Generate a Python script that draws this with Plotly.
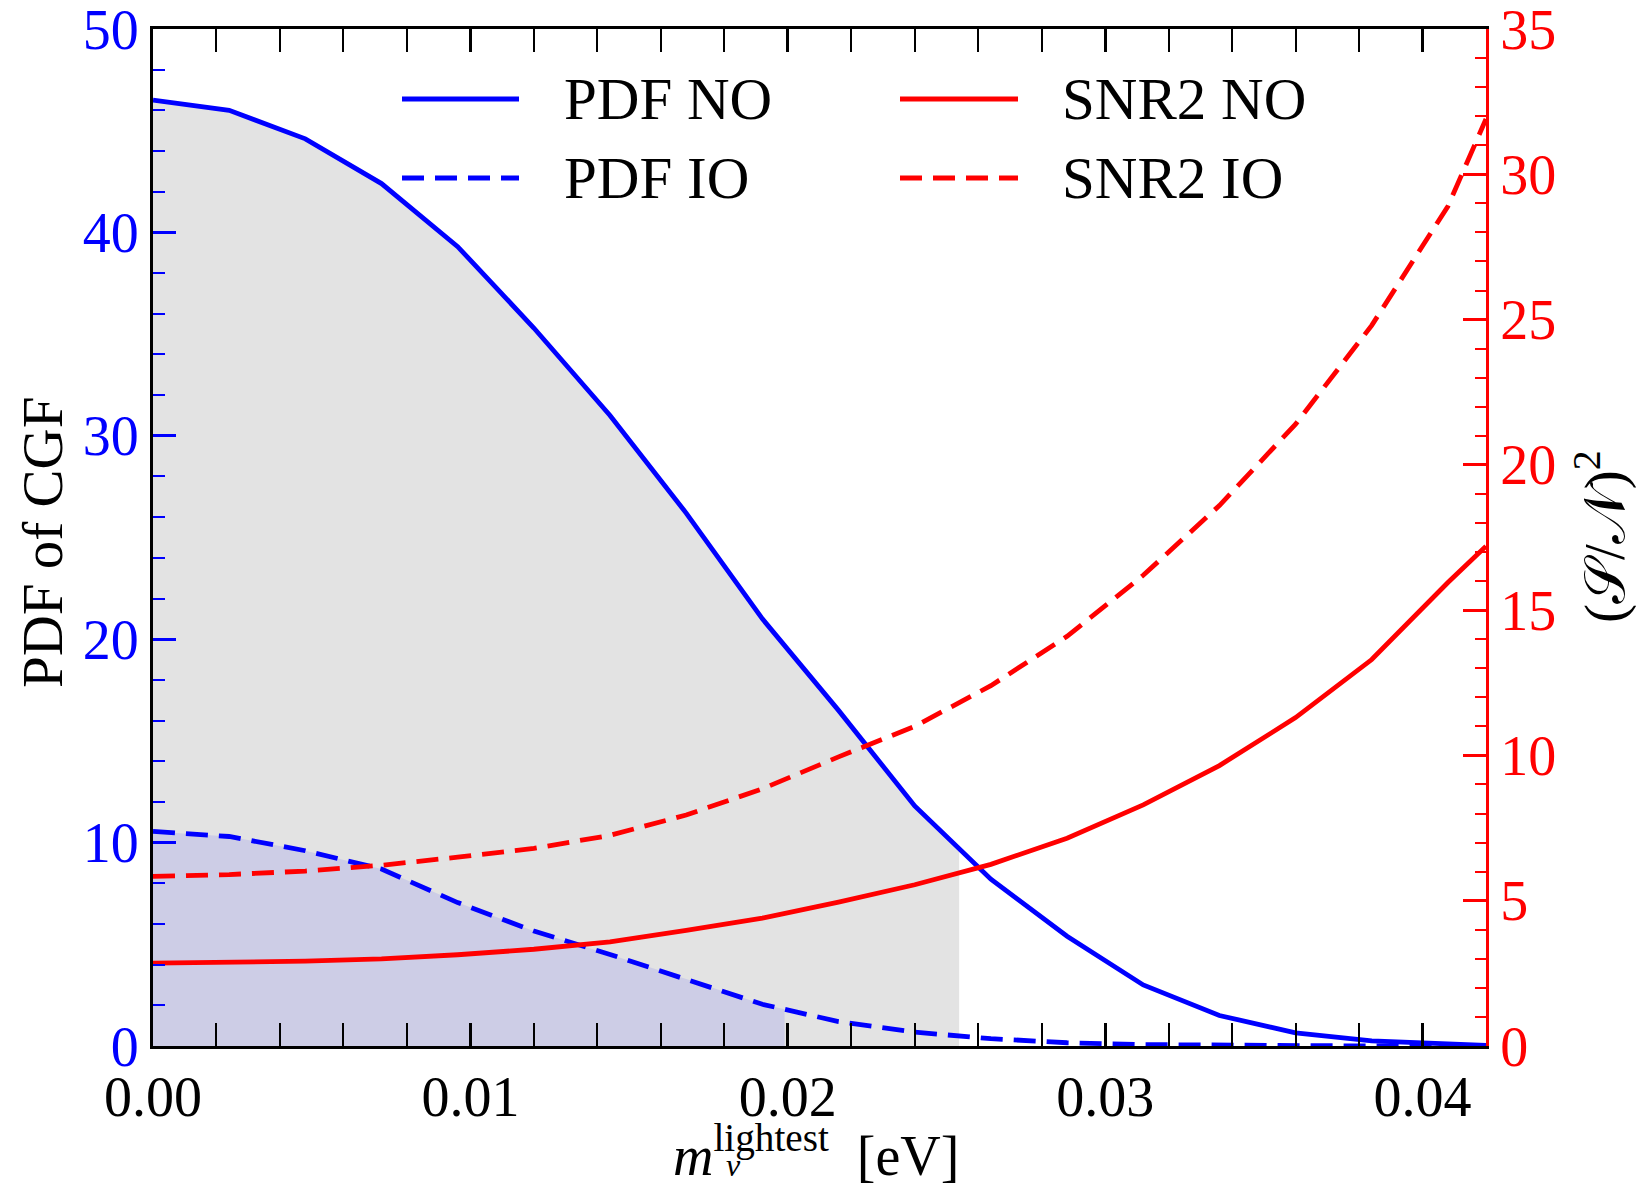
import numpy as np
import plotly.graph_objects as go

# ---------------- data ----------------
m_light = [0.0, 0.0024, 0.0048, 0.0072, 0.0096, 0.012, 0.0144, 0.0168, 0.0192,
           0.0216, 0.024, 0.0264, 0.0288, 0.0312, 0.0336, 0.036, 0.0384, 0.0408, 0.042]
pdf_no = [46.5, 46.0, 44.6, 42.4, 39.3, 35.3, 31.0, 26.2, 21.0,
          16.5, 11.8, 8.2, 5.4, 3.0, 1.5, 0.65, 0.25, 0.08, 0.03]
pdf_io = [10.55, 10.3, 9.6, 8.7, 7.05, 5.65, 4.5, 3.3, 2.05,
          1.2, 0.68, 0.36, 0.16, 0.07, 0.03, 0.01, 0.0, 0.0, 0.0]
snr2_no = [2.85, 2.87, 2.92, 3.0, 3.14, 3.33, 3.58, 3.98, 4.4,
           4.95, 5.55, 6.25, 7.15, 8.3, 9.65, 11.3, 13.3, 15.95, 17.2]
snr2_io = [5.84, 5.9, 6.02, 6.22, 6.5, 6.8, 7.25, 7.95, 8.85,
           9.95, 11.0, 12.4, 14.1, 16.2, 18.6, 21.4, 24.8, 28.9, 31.9]

cut_no = 0.0254   # end of shaded region (NO)
cut_io = 0.0199   # end of shaded region (IO)

x_ticks = [0.0, 0.01, 0.02, 0.03, 0.04]
x_ticklabels = ["0.00", "0.01", "0.02", "0.03", "0.04"]
y1_ticks = [0, 10, 20, 30, 40, 50]
y2_ticks = [0, 5, 10, 15, 20, 25, 30, 35]
legend_names = ["PDF NO", "PDF IO", "SNR2 NO", "SNR2 IO"]

BLUE = "#0000ff"
RED = "#ff0000"
FONT = "Liberation Serif"
DASH = "22px,11px"


def shaded(xs, ys, cut):
    xs = np.asarray(xs)
    ys = np.asarray(ys)
    keep = xs < cut
    xf = np.append(xs[keep], cut)
    yf = np.append(ys[keep], np.interp(cut, xs, ys))
    return xf, yf


fig = go.Figure()

xg, yg = shaded(m_light, pdf_no, cut_no)
fig.add_trace(go.Scatter(x=xg, y=yg, mode="lines", line=dict(width=0),
                         fill="tozeroy", fillcolor="#e3e3e3", showlegend=False,
                         hoverinfo="skip"))
xp, yp = shaded(m_light, pdf_io, cut_io)
fig.add_trace(go.Scatter(x=xp, y=yp, mode="lines", line=dict(width=0),
                         fill="tozeroy", fillcolor="#cdcde6", showlegend=False,
                         hoverinfo="skip"))

fig.add_trace(go.Scatter(x=m_light, y=pdf_no, mode="lines", name=legend_names[0],
                         line=dict(color=BLUE, width=4.8), showlegend=False))
fig.add_trace(go.Scatter(x=m_light, y=pdf_io, mode="lines", name=legend_names[1],
                         line=dict(color=BLUE, width=4.8, dash=DASH), showlegend=False))
fig.add_trace(go.Scatter(x=m_light, y=snr2_no, mode="lines", name=legend_names[2],
                         line=dict(color=RED, width=4.8), yaxis="y2", showlegend=False))
fig.add_trace(go.Scatter(x=m_light, y=snr2_io, mode="lines", name=legend_names[3],
                         line=dict(color=RED, width=4.8, dash=DASH), yaxis="y2",
                         showlegend=False))

W, H = 1638, 1186
L, R, T, B = 153, 152, 29, 140
PW, PH = W - L - R, H - T - B


def px_x(px):
    return (px - L) / PW


def px_y(py):
    return (H - B - py) / PH


# manual legend (line samples + labels)
legend_rows = [99, 178]
legend_cols = [(402, 519, 562), (900, 1018, 1060)]
entries = [(0, 0, BLUE, "solid", legend_names[0]),
           (1, 0, BLUE, DASH, legend_names[1]),
           (0, 1, RED, "solid", legend_names[2]),
           (1, 1, RED, DASH, legend_names[3])]
shapes = []
annotations = []
for row, col, color, dash, name in entries:
    x0, x1, xt = legend_cols[col]
    yy = px_y(legend_rows[row])
    shapes.append(dict(type="line", xref="paper", yref="paper",
                       x0=px_x(x0), x1=px_x(x1), y0=yy, y1=yy,
                       line=dict(color=color, width=4.8, dash=dash)))
    annotations.append(dict(xref="paper", yref="paper", x=px_x(xt), y=yy,
                            xanchor="left", yanchor="middle", showarrow=False,
                            text=name, font=dict(family=FONT, size=59, color="black")))

# axis titles
annotations.append(dict(xref="paper", yref="paper", x=px_x(42), y=px_y(543),
                        textangle=-90, showarrow=False, xanchor="center", yanchor="middle",
                        text="PDF of CGF", font=dict(family=FONT, size=57, color="black")))
annotations.append(dict(xref="paper", yref="paper", x=px_x(1600), y=px_y(537),
                        textangle=-90, showarrow=False, xanchor="center", yanchor="middle",
                        text="(\U0001D4AE/\U0001D4A9)<sup>2</sup>",
                        font=dict(family=FONT, size=57, color="black")))
annotations.append(dict(xref="paper", yref="paper", x=px_x(816), y=px_y(1151),
                        showarrow=False, xanchor="center", yanchor="middle",
                        text="<i>m</i><sup>lightest</sup>  [eV]",
                        font=dict(family=FONT, size=56, color="black")))
annotations.append(dict(xref="paper", yref="paper", x=px_x(733), y=px_y(1185),
                        showarrow=False, xanchor="center", yanchor="bottom",
                        text="<i>ν</i>",
                        font=dict(family=FONT, size=32, color="black")))

fig.update_layout(
    width=W, height=H,
    margin=dict(l=L, r=R, t=T, b=B, autoexpand=False),
    paper_bgcolor="white", plot_bgcolor="white",
    showlegend=False,
    shapes=shapes, annotations=annotations,
    xaxis=dict(range=[0, 0.042], tickvals=x_ticks, ticktext=x_ticklabels,
               ticks="inside", ticklen=23, tickwidth=2.5, tickcolor="black",
               minor=dict(dtick=0.002, ticks="inside", ticklen=12, tickwidth=2,
                          tickcolor="black"),
               showline=True, linecolor="black", linewidth=3, mirror="allticks",
               showgrid=False, zeroline=False, ticklabeloverflow="allow",
               tickfont=dict(family=FONT, size=56, color="black")),
    yaxis=dict(range=[0, 50], tickvals=y1_ticks,
               ticks="inside", ticklen=23, tickwidth=2.5, tickcolor=BLUE,
               minor=dict(dtick=2, tick0=0, ticks="inside", ticklen=12, tickwidth=2,
                          tickcolor=BLUE),
               showline=True, linecolor="black", linewidth=3,
               showgrid=False, zeroline=False, ticklabeloverflow="allow",
               tickfont=dict(family=FONT, size=56, color=BLUE)),
    yaxis2=dict(range=[0, 35], tickvals=y2_ticks, overlaying="y", side="right",
                ticks="inside", ticklen=23, tickwidth=2.5, tickcolor=RED,
                minor=dict(dtick=1, tick0=0, ticks="inside", ticklen=11, tickwidth=2,
                           tickcolor=RED),
                showline=True, linecolor=RED, linewidth=3,
                showgrid=False, zeroline=False, ticklabeloverflow="allow",
                tickfont=dict(family=FONT, size=56, color=RED)),
)

fig.write_html("out.html")
